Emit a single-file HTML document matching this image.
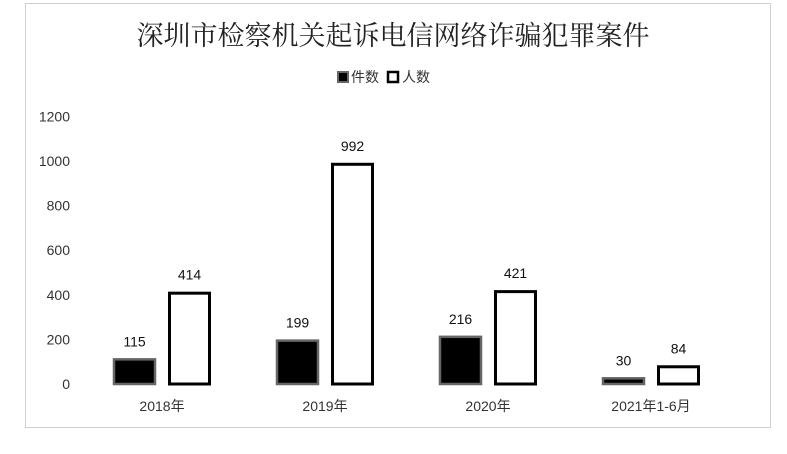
<!DOCTYPE html>
<html><head><meta charset="utf-8"><style>
body{margin:0;background:#fff;}
svg text{font-family:"Liberation Sans","Noto Sans CJK SC",sans-serif;}
</style></head><body>
<svg width="787" height="449" viewBox="0 0 787 449">
<rect x="25.5" y="3.5" width="745" height="424" fill="#fff" stroke="#d0d0d0"/>
<text x="393" y="45" text-anchor="middle" font-size="27" fill="#222" style="font-family:'Noto Serif CJK SC','Noto Sans CJK SC',serif">深圳市检察机关起诉电信网络诈骗犯罪案件</text>
<g>
<rect x="338" y="72" width="10" height="10" fill="#000" stroke="#666" stroke-width="2"/>
<text x="351" y="82" font-size="14" fill="#333">件数</text>
<rect x="388" y="72" width="10" height="10" fill="#fff" stroke="#000" stroke-width="2.5"/>
<text x="402" y="82" font-size="14" fill="#333">人数</text>
</g>
<g id="yaxis"></g><g id="bars"></g>
</svg>
<script>
const categories=["2018年","2019年","2020年","2021年1-6月"];
const cases=[115,199,216,30];
const people=[414,992,421,84];
const yTicks=[0,200,400,600,800,1000,1200];
const NS="http://www.w3.org/2000/svg";
const y0=384,pxPer=0.223,left=80.5,groupW=163,barW=43,gap=12;
const y=v=>y0-v*pxPer;
const cx=i=>left+groupW*(i+0.5);
function mk(tag,attrs,parent){const e=document.createElementNS(NS,tag);for(const k in attrs)e.setAttribute(k,attrs[k]);parent.appendChild(e);return e;}
const ya=document.getElementById('yaxis'),bg=document.getElementById('bars');
yTicks.forEach(t=>{const e=mk('text',{x:70,y:y(t)+5,'text-anchor':'end','font-size':14,fill:'#333'},ya);


e.textContent=t;});
categories.forEach((c,i)=>{
const l=mk('text',{x:cx(i),y:411,'text-anchor':'middle','font-size':14,fill:'#333'},bg);


l.textContent=c;
const x1=cx(i)-gap/2-barW,x2=cx(i)+gap/2;
const b1=mk('rect',{x:x1+1,y:y(cases[i])+1,width:barW-2,height:Math.max(0,y0-y(cases[i])-1),fill:'#000',stroke:'#666','stroke-width':2.5},bg);


const b2=mk('rect',{x:x2+1.5,y:y(people[i])+1.5,width:barW-3,height:Math.max(0,y0-y(people[i])-1.5),fill:'#fff',stroke:'#000','stroke-width':3},bg);


const v1=mk('text',{x:x1+barW/2,y:y(cases[i])-12,'text-anchor':'middle','font-size':14,fill:'#111'},bg);


v1.textContent=cases[i];
const v2=mk('text',{x:x2+barW/2,y:y(people[i])-12,'text-anchor':'middle','font-size':14,fill:'#111'},bg);


v2.textContent=people[i];
});
</script>
</body></html>
